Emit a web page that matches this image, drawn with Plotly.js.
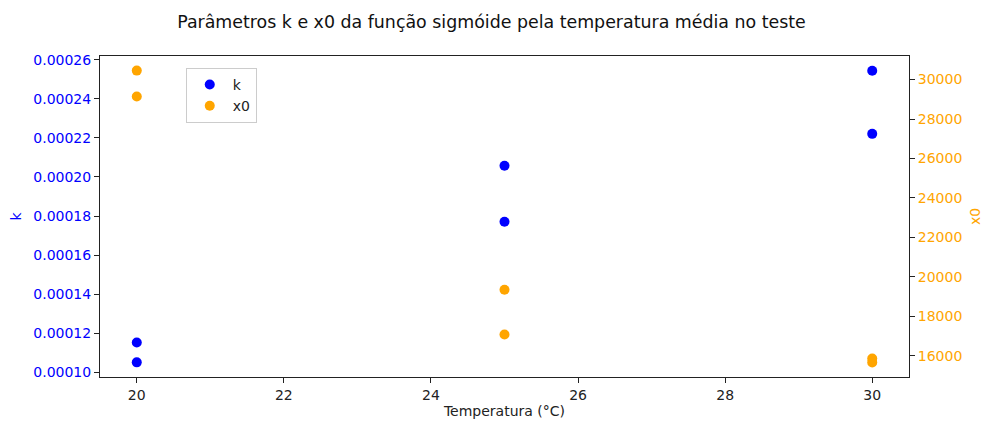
<!DOCTYPE html>
<html>
<head>
<meta charset="utf-8">
<script src="https://cdn.plot.ly/plotly-3.0.1.min.js"></script>
<style>html,body{margin:0;padding:0;background:#fff;}#chart{width:983px;height:421px;}</style>
</head>
<body>
<div id="chart"></div>
<script>
const temperatures_k = [20, 20, 25, 25, 30, 30];
const kValues = [0.000105, 0.0001152, 0.0002058, 0.0001771, 0.0002544, 0.0002221];
const temperatures_x0 = [20, 20, 25, 25, 30, 30];
const x0Values = [30455, 29141, 19343, 17071, 15859, 15657];
const kTicks = [0.00010, 0.00012, 0.00014, 0.00016, 0.00018, 0.00020, 0.00022, 0.00024, 0.00026];
const x0Ticks = [16000, 18000, 20000, 22000, 24000, 26000, 28000, 30000];
const xTicks = [20, 22, 24, 26, 28, 30];

const font = 'DejaVu Sans, sans-serif';
const fs = 14;
const traces = [
  {x: temperatures_k, y: kValues, type: 'scatter', mode: 'markers', name: 'k',
   marker: {color: 'blue', size: 10}, yaxis: 'y'},
  {x: temperatures_x0, y: x0Values, type: 'scatter', mode: 'markers', name: 'x0',
   marker: {color: 'orange', size: 10}, yaxis: 'y2'}
];
const layout = {
  width: 983, height: 421,
  margin: {l: 100, r: 74, t: 56, b: 44},
  paper_bgcolor: '#fff', plot_bgcolor: '#fff',
  font: {family: font, size: fs, color: '#222'},
  showlegend: true,
  title: {text: 'Parâmetros k e x0 da função sigmóide pela temperatura média no teste',
          font: {family: font, size: 17.4, color: '#111'},
          x: 0.5, xref: 'container', xanchor: 'center', y: 1 - 22/421, yref: 'container', yanchor: 'middle'},
  xaxis: {range: [19.5, 30.5], tickvals: xTicks, ticks: 'outside', ticklen: 5, tickcolor: '#222',
          showgrid: false, zeroline: false, showline: true, linecolor: '#222', linewidth: 1, mirror: true,
          tickfont: {family: font, size: fs, color: '#222'},
          title: {text: 'Temperatura (°C)', font: {family: font, size: fs, color: '#222'}, standoff: 4},
          automargin: false},
  yaxis: {range: [0.0000975, 0.000262], tickvals: kTicks, tickformat: '.5f', ticks: 'outside', ticklen: 5, tickcolor: '#222',
          showgrid: false, zeroline: false, showline: true, linecolor: '#222', linewidth: 1, mirror: true,
          tickfont: {family: font, size: fs, color: 'blue'},
          title: {text: 'k', font: {family: font, size: fs, color: 'blue'}, standoff: 8},
          automargin: false},
  yaxis2: {range: [14917, 31195], tickvals: x0Ticks, tickformat: 'd', ticks: 'outside', ticklen: 5, tickcolor: '#222',
           overlaying: 'y', side: 'right',
           showgrid: false, zeroline: false, showline: false,
           tickfont: {family: font, size: fs, color: 'orange'},
           title: {text: 'x0', font: {family: font, size: fs, color: 'orange'}, standoff: 8},
           automargin: false},
  legend: {x: 0.106, y: 0.963, xanchor: 'left', yanchor: 'top', bgcolor: 'rgba(255,255,255,0.8)',
           bordercolor: '#ccc', borderwidth: 1, font: {family: font, size: fs, color: '#222'},
           itemwidth: 36, tracegroupgap: 0}
};
Plotly.newPlot('chart', traces, layout, {displayModeBar: false, staticPlot: true});
</script>
</body>
</html>
